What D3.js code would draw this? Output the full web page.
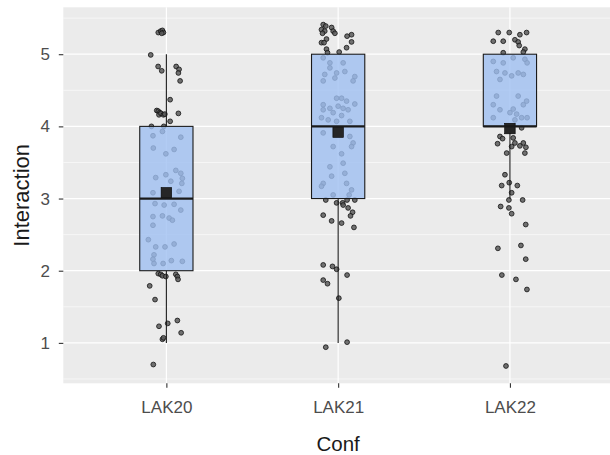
<!DOCTYPE html>
<html>
<head>
<meta charset="utf-8">
<script src="https://cdn.jsdelivr.net/npm/d3@7"></script>
<style>
  html, body { margin: 0; padding: 0; background: #ffffff; }
  svg { display: block; font-family: "Liberation Sans", Arial, sans-serif; }
</style>
</head>
<body>
<svg id="chart" width="610" height="455"></svg>
<script>
// ---------- data ----------
const categories = ["LAK20", "LAK21", "LAK22"];
const yTicks = [1, 2, 3, 4, 5];

// box statistics per category
const q1       = [2, 3, 4];
const medians  = [3, 4, 4];
const q3       = [4, 5, 5];
const whiskLo  = [1, 1, 3];
const whiskHi  = [5, 5, 5];
const means    = [3.08, 3.92, 3.97];

// jittered observations: values (with vertical jitter) and horizontal jitter (category units)
const lak20Values = [5.30,5.32,5.33,5.30,5.29,4.99,4.83,4.77,4.83,4.79,4.74,4.63,4.37,4.22,4.21,4.19,4.16,4.18,4.16,4.17,4.18,4.07,4.00,4.00,
  3.87,3.93,3.85,3.70,3.68,3.62,3.39,3.35,3.28,3.29,3.33,3.24,3.21,3.08,3.10,2.93,2.91,2.92,2.84,2.75,2.76,2.73,2.63,2.70,2.43,2.33,2.33,2.37,2.22,2.16,2.10,2.14,2.13,2.10,
  1.96,1.95,1.93,1.92,1.95,1.92,1.88,1.79,1.60,1.23,1.27,1.31,1.14,1.05,1.07,0.70];
const lak20Jitter = [-0.047,-0.033,-0.023,-0.017,-0.027,-0.091,-0.048,-0.027,0.057,0.074,0.070,0.080,0.022,-0.056,-0.047,-0.038,-0.043,-0.031,-0.017,-0.009,0.070,0.022,-0.087,-0.015,
  -0.078,-0.023,0.084,-0.076,0.045,-0.003,0.055,0.084,0.093,-0.062,-0.003,0.026,0.090,-0.078,0.074,-0.066,-0.013,0.045,0.084,-0.078,-0.023,0.016,-0.078,0.035,-0.105,-0.062,-0.008,0.045,-0.072,-0.078,-0.019,0.029,0.093,-0.072,
  -0.047,-0.033,-0.023,-0.003,0.055,0.064,0.068,-0.097,-0.066,-0.043,0.008,0.064,0.086,-0.023,-0.017,-0.076];

const lak21Values = [5.41,5.39,5.34,5.32,5.29,5.37,5.32,5.29,5.21,5.16,5.16,5.27,5.25,5.17,5.09,5.07,5.02,5.03,
  4.95,4.88,4.81,4.88,4.76,4.74,4.72,4.69,4.67,4.63,4.63,4.39,4.39,4.35,4.30,4.31,4.25,4.28,4.25,4.23,4.23,4.19,4.15,4.12,4.09,4.07,4.07,
  3.91,3.86,3.77,3.72,3.72,3.62,3.44,3.49,3.35,3.31,3.21,3.17,3.21,3.12,3.05,3.05,
  2.98,2.94,2.94,2.98,2.98,2.91,2.87,2.81,2.76,2.77,2.69,2.66,2.60,2.08,2.06,2.02,1.94,1.87,1.82,1.62,1.01,0.94];
const lak21Jitter = [-0.087,-0.072,-0.097,-0.078,-0.091,-0.038,-0.029,-0.019,-0.068,-0.097,-0.082,0.078,0.052,0.078,0.049,-0.068,-0.062,0.006,
  -0.087,-0.048,-0.048,0.029,0.039,-0.009,-0.078,0.097,-0.019,-0.087,0.087,-0.009,0.020,0.049,-0.087,0.097,-0.048,0.000,0.029,0.058,-0.087,-0.029,0.020,-0.097,-0.058,-0.009,0.068,
  -0.087,0.068,0.087,0.078,-0.029,0.020,-0.048,0.029,0.039,-0.038,-0.087,-0.097,0.049,0.078,-0.029,0.064,
  -0.072,-0.009,0.026,0.052,0.097,0.029,0.058,0.084,0.072,-0.087,-0.038,0.020,0.092,-0.087,-0.033,-0.009,0.052,-0.087,-0.062,0.004,0.052,-0.072];

const lak22Values = [5.30,5.30,5.27,5.30,5.18,5.18,5.20,5.17,5.12,5.07,5.03,5.02,
  4.90,4.88,4.95,4.93,4.88,4.76,4.74,4.70,4.74,4.72,4.65,4.42,4.42,4.35,4.30,4.30,4.24,4.23,4.19,4.17,4.12,4.12,4.12,4.09,
  3.98,3.86,3.83,3.76,3.84,3.77,3.72,3.77,3.73,3.71,3.63,3.63,3.33,3.22,3.18,3.18,3.08,2.98,2.98,2.89,2.87,2.79,2.64,2.31,2.35,2.16,1.94,1.88,1.74,0.68];
const lak22Jitter = [-0.068,-0.004,0.058,0.097,-0.097,-0.039,0.029,0.048,0.054,0.087,0.078,-0.039,
  -0.097,-0.039,0.019,0.087,0.100,-0.078,-0.029,0.010,0.048,0.078,-0.058,-0.078,0.048,0.097,-0.097,0.078,0.019,-0.058,0.000,0.039,-0.097,0.068,0.100,0.029,
  0.068,-0.058,-0.043,-0.072,0.019,0.029,0.010,0.078,0.058,0.093,-0.019,0.087,-0.029,-0.004,-0.048,0.043,0.010,-0.006,0.074,-0.054,-0.006,0.010,0.092,-0.070,0.064,0.092,-0.047,0.035,0.099,-0.023];

const seriesValues = [lak20Values, lak21Values, lak22Values];
const seriesJitter = [lak20Jitter, lak21Jitter, lak22Jitter];

// ---------- layout ----------
const W = 610, H = 455;
const panel = { left: 63.3, right: 613, top: 7.3, bottom: 383.3 };
const boxWidth = 0.31; // category units

const svg = d3.select("#chart");

const x = d3.scalePoint().domain(categories).range([panel.left, panel.right]).padding(0.6);
const step = x.step();
const y = d3.scaleLinear().domain([0.44, 5.65]).range([panel.bottom, panel.top]);

// panel background
svg.append("rect")
  .attr("x", panel.left).attr("y", panel.top)
  .attr("width", panel.right - panel.left).attr("height", panel.bottom - panel.top)
  .attr("fill", "#EBEBEB");

// minor grid (y)
const minor = d3.range(0.5, 5.6, 1);
svg.append("g").selectAll("line").data(minor).join("line")
  .attr("x1", panel.left).attr("x2", panel.right)
  .attr("y1", d => y(d)).attr("y2", d => y(d))
  .attr("stroke", "#ffffff").attr("stroke-width", 0.6);

// major grid
svg.append("g").selectAll("line").data(yTicks).join("line")
  .attr("x1", panel.left).attr("x2", panel.right)
  .attr("y1", d => y(d)).attr("y2", d => y(d))
  .attr("stroke", "#ffffff").attr("stroke-width", 1.2);
svg.append("g").selectAll("line").data(categories).join("line")
  .attr("x1", d => x(d)).attr("x2", d => x(d))
  .attr("y1", panel.top).attr("y2", panel.bottom)
  .attr("stroke", "#ffffff").attr("stroke-width", 1.2);

// jittered points
const pts = [];
categories.forEach((c, i) => {
  seriesValues[i].forEach((v, j) => pts.push({ c, v, dx: seriesJitter[i][j] }));
});
svg.append("g").selectAll("circle").data(pts).join("circle")
  .attr("cx", d => x(d.c) + d.dx * step)
  .attr("cy", d => y(d.v))
  .attr("r", 2.4)
  .attr("fill", "#5a5a5a")
  .attr("fill-opacity", 0.85)
  .attr("stroke", "#111111")
  .attr("stroke-width", 0.8);

// boxplots
const boxes = categories.map((c, i) => ({
  c, q1: q1[i], med: medians[i], q3: q3[i], lo: whiskLo[i], hi: whiskHi[i], mean: means[i]
}));
const bg = svg.append("g");
boxes.forEach(b => {
  const cx = x(b.c);
  const hw = boxWidth * step / 2;
  bg.append("line").attr("x1", cx).attr("x2", cx).attr("y1", y(b.q3)).attr("y2", y(b.hi))
    .attr("stroke", "#1a1a1a").attr("stroke-width", 1.1);
  bg.append("line").attr("x1", cx).attr("x2", cx).attr("y1", y(b.q1)).attr("y2", y(b.lo))
    .attr("stroke", "#1a1a1a").attr("stroke-width", 1.1);
  bg.append("rect")
    .attr("x", cx - hw).attr("width", 2 * hw)
    .attr("y", y(b.q3)).attr("height", y(b.q1) - y(b.q3))
    .attr("fill", "#9FBFF1").attr("fill-opacity", 0.8)
    .attr("stroke", "#1a1a1a").attr("stroke-width", 1.1);
});
// mean squares
const sq = 10.5;
svg.append("g").selectAll("rect").data(boxes).join("rect")
  .attr("x", d => x(d.c) - sq / 2).attr("y", d => y(d.mean) - sq / 2)
  .attr("width", sq).attr("height", sq)
  .attr("fill", "#262626").attr("stroke", "#000").attr("stroke-width", 0.6);
// median lines
svg.append("g").selectAll("line").data(boxes).join("line")
  .attr("x1", d => x(d.c) - boxWidth * step / 2).attr("x2", d => x(d.c) + boxWidth * step / 2)
  .attr("y1", d => y(d.med)).attr("y2", d => y(d.med))
  .attr("stroke", "#1a1a1a").attr("stroke-width", 2.2);

// axes
const yAxis = d3.axisLeft(y).tickValues(yTicks).tickSize(4.5).tickPadding(8.8).tickFormat(d3.format("d"));
const gy = svg.append("g").attr("transform", `translate(${panel.left},0)`).call(yAxis);
gy.select(".domain").remove();
gy.selectAll(".tick line").attr("stroke", "#333333").attr("stroke-width", 1.1);
gy.selectAll(".tick text").attr("fill", "#4D4D4D").attr("font-size", 17)
  .attr("font-family", "'Liberation Sans', Arial, sans-serif");

const xAxis = d3.axisBottom(x).tickSize(4.5).tickPadding(13);
const gx = svg.append("g").attr("transform", `translate(0,${panel.bottom})`).call(xAxis);
gx.select(".domain").remove();
gx.selectAll(".tick line").attr("stroke", "#333333").attr("stroke-width", 1.1);
gx.selectAll(".tick text").attr("fill", "#4D4D4D").attr("font-size", 17)
  .attr("font-family", "'Liberation Sans', Arial, sans-serif");

// axis titles
svg.append("text")
  .attr("x", (panel.left + panel.right) / 2).attr("y", 451)
  .attr("text-anchor", "middle").attr("font-size", 20.5).attr("fill", "#1a1a1a")
  .text("Conf");
svg.append("text")
  .attr("transform", `translate(29,${(panel.top + panel.bottom) / 2}) rotate(-90)`)
  .attr("text-anchor", "middle").attr("font-size", 22).attr("fill", "#1a1a1a")
  .text("Interaction");
</script>
</body>
</html>
